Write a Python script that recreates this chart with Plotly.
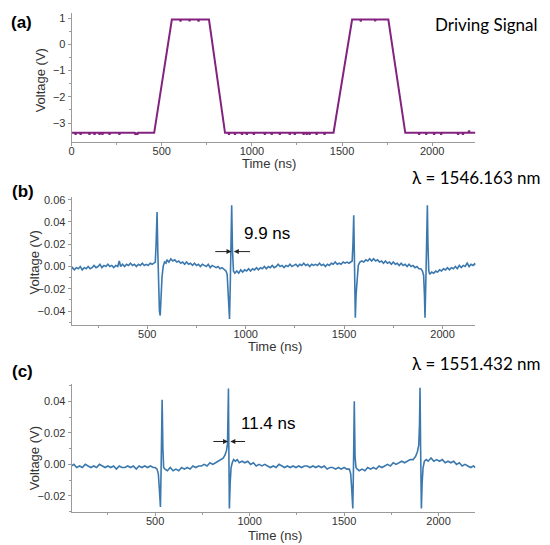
import plotly.graph_objects as go

# ---------------- Panel (a): driving signal ----------------
t_a = [0, 18, 22, 26, 46, 50, 54, 95, 99, 103, 123, 127, 131, 151, 155, 159, 167, 171, 175,
       206, 210, 214, 261, 265, 269, 350, 354, 358, 361, 365, 369, 458,
       552, 556, 600, 604, 608, 650, 654, 658, 700, 704, 708, 758, 762,
       851, 869, 873, 877, 902, 906, 910, 941, 945, 949, 968, 972, 976, 1007, 1011, 1015,
       1068, 1072, 1076, 1106, 1110, 1114, 1151, 1155, 1159, 1206, 1210, 1214, 1234, 1238, 1242,
       1283, 1287, 1291, 1300, 1304, 1308, 1316, 1320, 1324, 1355, 1359, 1363, 1399, 1403, 1407, 1453,
       1552, 1556, 1600, 1604, 1608, 1680, 1684, 1688, 1753, 1757,
       1851, 1924, 1928, 1932, 1963, 1967, 1971, 2007, 2011, 2015, 2046, 2050, 2054,
       2140, 2144, 2148, 2167, 2171, 2175, 2201, 2205, 2209, 2240]
v_a = [-3.37, -3.37, -3.44, -3.37, -3.37, -3.44, -3.37, -3.37, -3.44, -3.37, -3.37, -3.44, -3.37,
       -3.37, -3.44, -3.37, -3.37, -3.44, -3.37, -3.37, -3.44, -3.37, -3.37, -3.44, -3.37,
       -3.37, -3.44, -3.37, -3.37, -3.44, -3.37, -3.37,
       0.95, 0.95, 0.95, 0.88, 0.95, 0.95, 0.89, 0.95, 0.95, 0.88, 0.95, 0.95, 0.95,
       -3.37, -3.37, -3.44, -3.37, -3.37, -3.44, -3.37, -3.37, -3.44, -3.37, -3.37, -3.44, -3.37,
       -3.37, -3.44, -3.37, -3.37, -3.44, -3.37, -3.37, -3.44, -3.37, -3.37, -3.44, -3.37,
       -3.37, -3.44, -3.37, -3.37, -3.44, -3.37, -3.37, -3.44, -3.37, -3.37, -3.44, -3.37,
       -3.37, -3.44, -3.37, -3.37, -3.44, -3.37, -3.37, -3.44, -3.37, -3.37,
       0.95, 0.95, 0.95, 0.88, 0.95, 0.95, 0.89, 0.95, 0.95, 0.95,
       -3.37, -3.37, -3.44, -3.37, -3.37, -3.44, -3.37, -3.37, -3.44, -3.37, -3.37, -3.44, -3.37,
       -3.37, -3.44, -3.37, -3.37, -3.44, -3.37, -3.37, -3.28, -3.37, -3.37]

# ---------------- Panel (b): lambda = 1546.163 nm ----------------
t_b = [116, 120, 130, 140, 150, 160, 170, 180, 190, 200, 210, 220, 230, 240, 250, 260, 270, 280,
       290, 300, 310, 320, 330, 340, 350, 358, 365, 375, 385, 395, 405, 415, 425, 435, 445, 455,
       465, 475, 485, 495, 505, 515, 525, 535, 541, 545, 550, 554, 558, 562, 566, 570, 575, 581,
       588, 595, 600, 610, 620, 630, 640, 650, 660, 670, 680, 690, 700, 710, 720, 730, 740, 750,
       760, 770, 780, 790, 800, 810, 820, 830, 840, 850, 860, 870, 880, 890, 900, 906, 911, 915,
       918, 922, 926, 929, 933, 938, 945, 955, 965, 975, 985, 995, 1005, 1015, 1025, 1035, 1045,
       1055, 1065, 1075, 1085, 1095, 1105, 1115, 1125, 1135, 1145, 1155, 1165, 1175, 1185, 1195,
       1205, 1215, 1225, 1235, 1245, 1255, 1265, 1275, 1285, 1295, 1305, 1315, 1325, 1335, 1345,
       1355, 1365, 1375, 1385, 1395, 1405, 1415, 1425, 1435, 1445, 1455, 1465, 1475, 1485, 1495,
       1505, 1515, 1525, 1535, 1541, 1545, 1549, 1552, 1554, 1557, 1561, 1566, 1572, 1580, 1590,
       1600, 1610, 1620, 1630, 1640, 1650, 1660, 1670, 1680, 1690, 1700, 1710, 1720, 1730, 1740,
       1750, 1760, 1770, 1780, 1790, 1800, 1810, 1820, 1830, 1840, 1850, 1860, 1870, 1880, 1890,
       1898, 1904, 1908, 1911, 1915, 1919, 1923, 1926, 1930, 1935, 1945, 1955, 1965, 1975, 1985,
       1995, 2005, 2015, 2025, 2035, 2045, 2055, 2065, 2075, 2085, 2095, 2105, 2115, 2125, 2135,
       2145, 2155, 2165, 2167]
v_b = [-0.002, -0.001, -0.003, -0.001, -0.002, 0.000, -0.003, -0.001, -0.002, 0.000, -0.002,
       -0.001, 0.001, -0.001, 0.000, 0.002, -0.001, 0.001, 0.000, 0.002, 0.000, 0.001, -0.001,
       0.001, 0.000, 0.005, 0.000, 0.002, 0.000, 0.002, 0.001, 0.003, 0.001, 0.002, 0.000, 0.002,
       0.001, 0.003, 0.001, 0.002, 0.001, 0.003, 0.002, 0.003, 0.004, 0.020, 0.049, 0.012, -0.020,
       -0.040, -0.044, -0.028, -0.010, 0.000, 0.004, 0.003, 0.006, 0.004, 0.007, 0.005, 0.006,
       0.004, 0.005, 0.003, 0.004, 0.002, 0.004, 0.002, 0.003, 0.001, 0.003, 0.001, 0.002, 0.000,
       0.002, 0.001, 0.000, 0.002, -0.001, 0.001, 0.000, -0.001, 0.000, -0.002, -0.001, -0.003,
       -0.004, -0.007, -0.020, -0.038, -0.047, -0.015, 0.025, 0.055, 0.015, -0.004, -0.006,
       -0.004, -0.006, -0.003, -0.005, -0.003, -0.004, -0.002, -0.004, -0.002, -0.003, -0.001,
       -0.003, -0.001, -0.002, 0.000, -0.002, 0.000, -0.001, 0.001, -0.001, 0.000, 0.002, 0.000,
       0.001, -0.001, 0.001, 0.000, 0.002, 0.000, 0.001, 0.002, 0.000, 0.002, 0.001, 0.003, 0.001,
       0.002, 0.000, 0.002, 0.001, 0.002, 0.001, 0.003, 0.001, 0.002, 0.000, 0.002, 0.001, 0.003,
       0.002, 0.004, 0.002, 0.003, 0.002, 0.004, 0.003, 0.004, 0.003, 0.004, 0.005, 0.020, 0.046,
       0.012, -0.020, -0.046, -0.025, -0.008, 0.001, 0.004, 0.005, 0.004, 0.006, 0.005, 0.007,
       0.005, 0.007, 0.005, 0.006, 0.004, 0.005, 0.003, 0.005, 0.003, 0.004, 0.002, 0.004, 0.002,
       0.003, 0.001, 0.003, 0.001, 0.002, 0.000, 0.002, 0.000, 0.001, -0.001, 0.000, -0.002,
       -0.002, -0.004, -0.008, -0.025, -0.046, -0.015, 0.020, 0.055, 0.020, -0.004, -0.007,
       -0.005, -0.006, -0.004, -0.005, -0.003, -0.004, -0.002, -0.003, -0.001, -0.003, -0.001,
       -0.002, 0.000, -0.002, 0.001, -0.001, 0.001, 0.000, 0.003, 0.000, 0.002, 0.001, 0.003, 0.001]

# ---------------- Panel (c): lambda = 1551.432 nm ----------------
t_c = [58, 70, 85, 100, 115, 130, 145, 160, 175, 190, 205, 220, 235, 250, 265, 280, 295, 310,
       325, 340, 355, 370, 385, 400, 415, 430, 445, 460, 475, 490, 500, 510, 517, 522, 528, 532,
       537, 541, 545, 552, 565, 580, 595, 610, 625, 640, 655, 670, 685, 700, 715, 730, 745, 760,
       775, 790, 805, 820, 835, 848, 860, 870, 878, 883, 886, 888, 890, 893, 897, 902, 908, 915,
       925, 935, 945, 960, 975, 990, 1005, 1020, 1035, 1050, 1065, 1080, 1095, 1110, 1125, 1140,
       1155, 1170, 1185, 1200, 1215, 1230, 1245, 1260, 1275, 1290, 1305, 1320, 1335, 1350, 1365,
       1380, 1395, 1410, 1425, 1440, 1455, 1470, 1485, 1500, 1515, 1528, 1535, 1540, 1546, 1550,
       1554, 1558, 1563, 1570, 1580, 1595, 1610, 1625, 1640, 1655, 1670, 1685, 1700, 1715, 1730,
       1745, 1760, 1775, 1790, 1805, 1820, 1835, 1850, 1865, 1878, 1888, 1895, 1899, 1902, 1905,
       1909, 1913, 1918, 1925, 1935, 1945, 1960, 1975, 1990, 2005, 2020, 2035, 2050, 2065, 2080,
       2095, 2110, 2125, 2140, 2155, 2170, 2185, 2195]
v_c = [-0.001, 0.000, -0.002, -0.001, -0.002, 0.000, -0.001, -0.002, -0.001, -0.002, 0.000,
       -0.001, -0.002, -0.001, -0.002, -0.001, -0.003, -0.001, -0.002, -0.002, -0.001, -0.002,
       -0.001, -0.003, -0.001, -0.002, -0.001, -0.002, -0.001, -0.002, -0.002, -0.003, -0.006,
       -0.015, -0.027, 0.000, 0.041, 0.010, -0.002, -0.003, -0.004, -0.002, -0.004, -0.003,
       -0.004, -0.002, -0.003, -0.002, -0.003, -0.001, -0.002, -0.001, -0.001, 0.000, -0.001,
       0.001, 0.000, 0.001, 0.002, 0.003, 0.004, 0.006, 0.009, 0.013, 0.030, 0.048, 0.010,
       -0.028, -0.012, -0.002, 0.001, 0.003, 0.002, 0.003, 0.001, 0.002, 0.001, 0.002, 0.000,
       0.001, -0.001, 0.000, -0.001, 0.000, -0.001, -0.002, -0.001, -0.002, 0.000, -0.001,
       -0.002, -0.001, -0.002, -0.001, -0.002, -0.001, -0.002, -0.001, -0.001, -0.002, -0.001,
       -0.002, -0.001, -0.002, -0.001, -0.003, -0.002, -0.002, -0.003, -0.002, -0.003, -0.002,
       -0.003, -0.003, -0.006, -0.015, -0.028, 0.000, 0.040, 0.005, -0.002, -0.003, -0.004,
       -0.003, -0.004, -0.002, -0.003, -0.002, -0.003, -0.001, -0.002, -0.001, 0.000, -0.001,
       0.001, 0.000, 0.001, 0.002, 0.001, 0.002, 0.003, 0.003, 0.005, 0.008, 0.012, 0.025,
       0.0485, 0.010, -0.028, -0.012, -0.002, 0.002, 0.003, 0.002, 0.004, 0.002, 0.003, 0.002,
       0.003, 0.001, 0.002, 0.001, 0.002, 0.000, 0.001, -0.001, 0.000, -0.001, -0.002, -0.001,
       -0.002]

# annotation values
width_b = [838, 1030, 0.0134]   # left end, right end, level of the width marker
width_c = [800, 984, 0.0145]
label_b = "9.9 ns"
label_c = "11.4 ns"

PURPLE = "#84237F"
BLUE = "#3B78AE"
AXC = "#9a9a9a"
TXT = "#333333"

fig = go.Figure()
fig.add_trace(go.Scatter(x=t_a, y=v_a, mode="lines", line=dict(color=PURPLE, width=2),
                         xaxis="x", yaxis="y", hoverinfo="skip"))
fig.add_trace(go.Scatter(x=t_b, y=v_b, mode="lines", line=dict(color=BLUE, width=1.6),
                         xaxis="x2", yaxis="y2", hoverinfo="skip"))
fig.add_trace(go.Scatter(x=t_c, y=v_c, mode="lines", line=dict(color=BLUE, width=1.6),
                         xaxis="x3", yaxis="y3", hoverinfo="skip"))

XD = [69 / 550, 475 / 550]


def xax(rng, anchor):
    return dict(domain=XD, range=rng, anchor=anchor, showline=True, linecolor=AXC, linewidth=1,
                ticks="outside", ticklen=3, tickcolor=AXC, tickvals=[0, 500, 1000, 1500, 2000],
                minor=dict(tickvals=[250, 750, 1250, 1750, 2250], ticks="outside", ticklen=2,
                           tickcolor=AXC),
                showgrid=False, zeroline=False, tickfont=dict(family="Liberation Sans", size=11,
                                                              color=TXT),
                ticklabelstandoff=-4)


def yax(rng, dom, anchor, tv, mv, fmt):
    return dict(domain=dom, range=rng, anchor=anchor, showline=True, linecolor=AXC, linewidth=1,
                ticks="outside", ticklen=3, tickcolor=AXC, tickvals=tv, tickformat=fmt,
                minor=dict(tickvals=mv, ticks="outside", ticklen=2, tickcolor=AXC),
                showgrid=False, zeroline=False,
                tickfont=dict(family="Liberation Sans", size=11, color=TXT))


fig.update_layout(
    width=550, height=545, margin=dict(l=0, r=0, t=0, b=0),
    paper_bgcolor="white", plot_bgcolor="white", showlegend=False,
    xaxis=xax([0, 2240], "y"),
    yaxis=yax([-3.73, 1.2], [1 - 140 / 545, 1 - 10 / 545], "x",
              [-3, -2, -1, 0, 1], [-2.5, -1.5, -0.5, 0.5], "d"),
    xaxis2=xax([116, 2167], "y2"),
    yaxis2=yax([-0.0527, 0.0625], [1 - 324 / 545, 1 - 195 / 545], "x2",
               [-0.04, -0.02, 0, 0.02, 0.04, 0.06], [-0.05, -0.03, -0.01, 0.01, 0.03, 0.05],
               ".2f"),
    xaxis3=xax([58, 2195], "y3"),
    yaxis3=yax([-0.0303, 0.051], [1 - 512 / 545, 1 - 383 / 545], "x3",
               [-0.02, 0, 0.02, 0.04], [-0.03, -0.01, 0.01, 0.03, 0.05], ".2f"),
)

ann = []


def paper_text(text, px, py, size, xanchor="center", bold=False, family="Liberation Sans",
               angle=0, color="black"):
    ann.append(dict(text=("<b>%s</b>" % text) if bold else text, x=px / 550, y=1 - py / 545,
                    xref="paper", yref="paper", xanchor=xanchor, yanchor="middle",
                    showarrow=False, textangle=angle,
                    font=dict(family=family, size=size, color=color)))


paper_text("(a)", 6, 20, 17, "left", True)
paper_text("(b)", 7, 190, 17, "left", True)
paper_text("(c)", 7, 371, 17, "left", True)
paper_text("Driving Signal", 432, 22, 17, "left", family="Lato")
paper_text("λ = 1546.163 nm", 543, 175, 17, "right", family="Lato")
paper_text("λ = 1551.432 nm", 543, 362, 17, "right", family="Lato")
paper_text("Voltage (V)", 38, 78, 13, angle=-90, color=TXT)
paper_text("Voltage (V)", 32, 261, 13, angle=-90, color=TXT)
paper_text("Voltage (V)", 32, 458, 13, angle=-90, color=TXT)
paper_text("Time (ns)", 267, 161, 13, color=TXT)
paper_text("Time (ns)", 273, 345, 13, color=TXT)
paper_text("Time (ns)", 273, 535, 13, color=TXT)


def width_marker(w, xr, yr, gap):
    left, right, lvl = w
    mid = (left + right) / 2
    for tail, head in ((left, mid - gap), (right, mid + gap)):
        ann.append(dict(x=head, y=lvl, ax=tail, ay=lvl, xref=xr, yref=yr, axref=xr, ayref=yr,
                        showarrow=True, arrowhead=2, arrowsize=1.0, arrowwidth=1,
                        arrowcolor="#222222", text=""))


width_marker(width_b, "x2", "y2", 6)
width_marker(width_c, "x3", "y3", 6)
ann.append(dict(text=label_b, x=980, y=0.0295, xref="x2", yref="y2", xanchor="left",
                yanchor="middle", showarrow=False,
                font=dict(family="Liberation Sans", size=17, color="black")))
ann.append(dict(text=label_c, x=942, y=0.0259, xref="x3", yref="y3", xanchor="left",
                yanchor="middle", showarrow=False,
                font=dict(family="Liberation Sans", size=17, color="black")))

fig.update_layout(annotations=ann)
fig.write_html("out.html")
